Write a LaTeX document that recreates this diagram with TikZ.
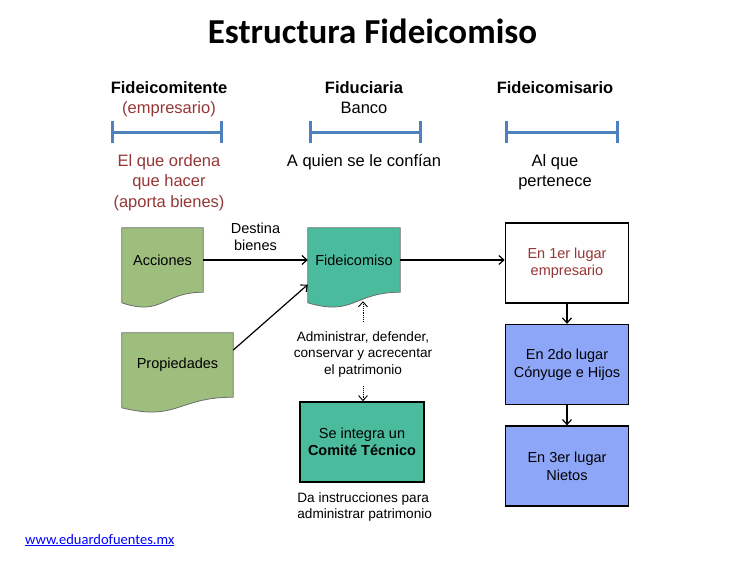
\documentclass[tikz,border=0pt]{standalone}
\usepackage{fontspec}
\setmainfont{Liberation Sans}
\newfontfamily\titulofont{Carlito}
\usetikzlibrary{chains,positioning,arrows.meta,backgrounds,calc}
\definecolor{rojizo}{RGB}{149,55,53}
\definecolor{azulrango}{RGB}{79,129,189}
\definecolor{verdedoc}{RGB}{158,190,125}
\definecolor{turquesa}{RGB}{75,187,158}
\definecolor{lavanda}{RGB}{142,166,248}
\definecolor{bordedoc}{RGB}{110,110,110}
\definecolor{enlace}{RGB}{0,0,255}

\begin{document}
\begin{tikzpicture}[
x=1pt,y=-1pt,
>={Straight Barb[length=5pt,width=9pt]},
texto/.style={
  font=\fontsize{16.5}{20.5}\selectfont,
  align=center,
  inner sep=0pt
},
textochico/.style={
  font=\fontsize{13.6}{16.5}\selectfont,
  align=center,
  inner sep=0pt
},
rango/.style={
  draw=azulrango,
  line width=3pt,
  {Bar[width=22pt]}-{Bar[width=22pt]}
},
docu/.style={
  font=\fontsize{14.5}{17}\selectfont,
  minimum height=64pt,
  inner sep=0pt
},
caja/.style={
  draw,
  line width=1.6pt,
  minimum width=123pt,
  minimum height=80pt,
  align=center,
  font=\fontsize{14.5}{17.5}\selectfont
},
flecha/.style={->,line width=1.2pt},
punteada/.style={->,densely dotted,line width=0.9pt}
]
\useasboundingbox (0,0) rectangle (750,560);

\node[anchor=base,inner sep=0pt,font=\titulofont\bfseries\fontsize{35}{40}\selectfont] 
  (titulo) at (372.5,43.3) {Estructura Fideicomiso};

% cabeceras
\node[texto,anchor=north] (fte) at (169,81) 
  {\textbf{Fideicomitente}\\\textcolor{rojizo}{(empresario)}};
\node[texto,anchor=north] (fdr) at (364,81) 
  {\textbf{Fiduciaria}\\Banco};
\node[texto,anchor=north] (fio) at (555,81) 
  {\textbf{Fideicomisario}};

\draw[rango] (111,132) -- (223,132);
\draw[rango] (309,132) -- (422,132);
\draw[rango] (505,132) -- (619,132);

\node[texto,anchor=north,text=rojizo] (ordena) at (169,154) 
  {El que ordena\\que hacer\\(aporta bienes)};
\node[texto,anchor=north] (confian) at (364,154) 
  {A quien se le confían};
\node[texto,anchor=north] (pertenece) at (555,154) 
  {Al que\\pertenece};

% documentos
\node[docu,minimum width=81pt] at (162.5,260) 
  (acc) {Acciones};
\node[docu,minimum width=111pt] at (177.5,365) 
  (prop) {Propiedades};
\node[docu,minimum width=92pt] at (354,260) 
  (fid) {Fideicomiso};

\begin{scope}[on background layer]
\foreach \n/\c in {acc/verdedoc,prop/verdedoc,fid/turquesa}
  \draw[draw=bordedoc,line width=0.8pt,fill=\c] (\n.north west) -- (\n.north east) -- (\n.south east)
    .. controls (\n.south) and ($(\n.south)+(0,24.4)$) .. ($(\n.south west)+(0,10.6)$) -- cycle;
\end{scope}

\draw[flecha] (acc) -- node[above=9pt,textochico,font=\fontsize{14.5}{17}\selectfont] 
  {Destina\\bienes} (fid);
\draw[flecha] (prop.15) -- (fid.208);

\node[textochico,inner ysep=9pt] at (363,354) 
  (adm) {Administrar, defender,\\conservar y acrecentar\\el patrimonio};
\node[caja,fill=turquesa,minimum width=124pt] at (362,442) 
  (com) {Se integra un\\\textbf{Comité Técnico}};
\node[textochico,align=left,below right=9.5pt and -2pt of com.south west] 
  (instr) {Da instrucciones para\\administrar patrimonio};

\draw[punteada] (adm.north) -- ($(adm.north |- fid.south)+(0,9)$);
\draw[punteada] (adm.south) -- (adm.south |- com.north);

% beneficiarios
\begin{scope}[start chain=2 going below,node distance=20pt]
\node[on chain=2,caja,fill=white,text=rojizo] at (567,263) 
  (e1) {En 1er lugar\\empresario};
\node[on chain=2,caja,fill=lavanda,join=by flecha] 
  (e2) {En 2do lugar\\Cónyuge e Hijos};
\node[on chain=2,caja,fill=lavanda,join=by flecha] 
  (e3) {En 3er lugar\\Nietos};
\end{scope}

\draw[flecha] (fid.east) -- (fid.east -| e1.west);

\node[anchor=base west,inner sep=0pt,text=enlace,font=\titulofont\fontsize{14.5}{17}\selectfont] 
  (web) at (25,544) {\underline{www.eduardofuentes.mx}};
\end{tikzpicture}
\end{document}
